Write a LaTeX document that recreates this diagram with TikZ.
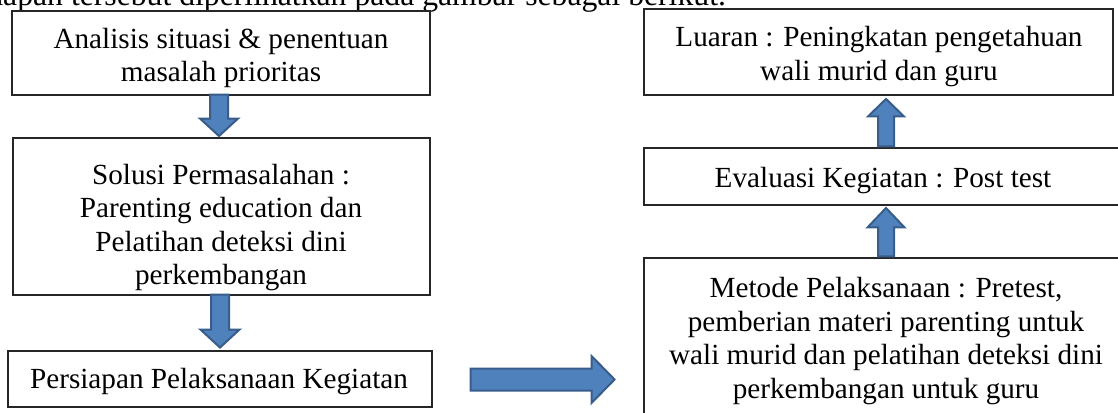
\documentclass[tikz,border=0pt]{standalone}
\usepackage{fontspec}
\setmainfont{Liberation Serif}
\usetikzlibrary{calc}
\definecolor{afill}{HTML}{4F81BD}
\definecolor{aline}{HTML}{385D8A}
\begin{document}
\begin{tikzpicture}[x=1pt,y=-1pt,
  stepbox/.style={draw=black!85,line width=1.1pt,inner sep=0pt,fill=none},
  steptext/.style={anchor=north,inner sep=0pt,align=center,
    font=\fontsize{29.2}{33.5}\selectfont},
  blockarrow/.style={fill=afill,draw=aline,line width=2pt,line join=miter}]
\useasboundingbox (0,0) rectangle (1118,412);
\clip (0,0) rectangle (1118,412);
% cut-off line of body text above the figure
\node[anchor=base west,inner sep=0pt,font=\fontsize{31.7}{38}\selectfont] (intro) at (-35.7,6)
  {tahapan tersebut diperlihatkan pada gambar sebagai berikut.};
% boxes
\node[stepbox,minimum width=418pt,minimum height=84pt] (b1) at (221,53) {};
\node[stepbox,minimum width=417pt,minimum height=157pt] (b2) at (221.5,216.5) {};
\node[stepbox,minimum width=424pt,minimum height=56pt] (b3) at (220,379) {};
\node[stepbox,minimum width=469pt,minimum height=86pt] (r1) at (878.5,52) {};
\node[stepbox,minimum width=484pt,minimum height=57pt] (r2) at (886,176.5) {};
\node[stepbox,minimum width=484pt,minimum height=167pt] (r3) at (886,341.5) {};
% texts
\node[steptext] (t1) at (221,24.55) {\strut Analisis situasi \& penentuan\\\strut masalah prioritas};
\node[steptext] (t2) at (221,160.55) {\strut Solusi Permasalahan :\\\strut Parenting education dan\\\strut Pelatihan deteksi dini\\\strut perkembangan};
\node[steptext] (t3) at (219,364.55) {\strut Persiapan Pelaksanaan Kegiatan};
\node[steptext] (t4) at (879,23.25) {\strut Luaran : Peningkatan pengetahuan\\\strut wali murid dan guru};
\node[steptext] (t5) at (883,164.25) {\strut Evaluasi Kegiatan : Post test};
\node[steptext] (t6) at (886,274.25) {\strut Metode Pelaksanaan : Pretest,\\\strut pemberian materi parenting untuk\\\strut wali murid dan pelatihan deteksi dini\\\strut perkembangan untuk guru};
% block arrows
\filldraw[blockarrow] ($(b1.south)+(-11,-1)$) -- ++(18,0) -- ++(0,24) -- ++(10,0)
  -- ++(-19,17.5) -- ++(-19,-17.5) -- ++(10,0) -- cycle;
\filldraw[blockarrow] ($(b2.south)+(-10.5,-1)$) -- ++(18,0) -- ++(0,35) -- ++(10.5,0)
  -- ++(-19.5,18) -- ++(-19.5,-18) -- ++(10.5,0) -- cycle;
\filldraw[blockarrow] ($(b3.east)+(38,-10.5)$) -- ++(121,0) -- ++(0,-12.5)
  -- ++(23,23.5) -- ++(-23,23.5) -- ++(0,-12.5) -- ++(-121,0) -- cycle;
\filldraw[blockarrow] ($(r2.north)+(-8,-1)$) -- ++(0,-30) -- ++(-10,0)
  -- ++(18,-17.5) -- ++(18,17.5) -- ++(-10,0) -- ++(0,30) -- cycle;
\filldraw[blockarrow] ($(r3.north)+(-8,-1)$) -- ++(0,-29) -- ++(-10.5,0)
  -- ++(18.5,-19.5) -- ++(18.5,19.5) -- ++(-10.5,0) -- ++(0,29) -- cycle;
\end{tikzpicture}
\end{document}
